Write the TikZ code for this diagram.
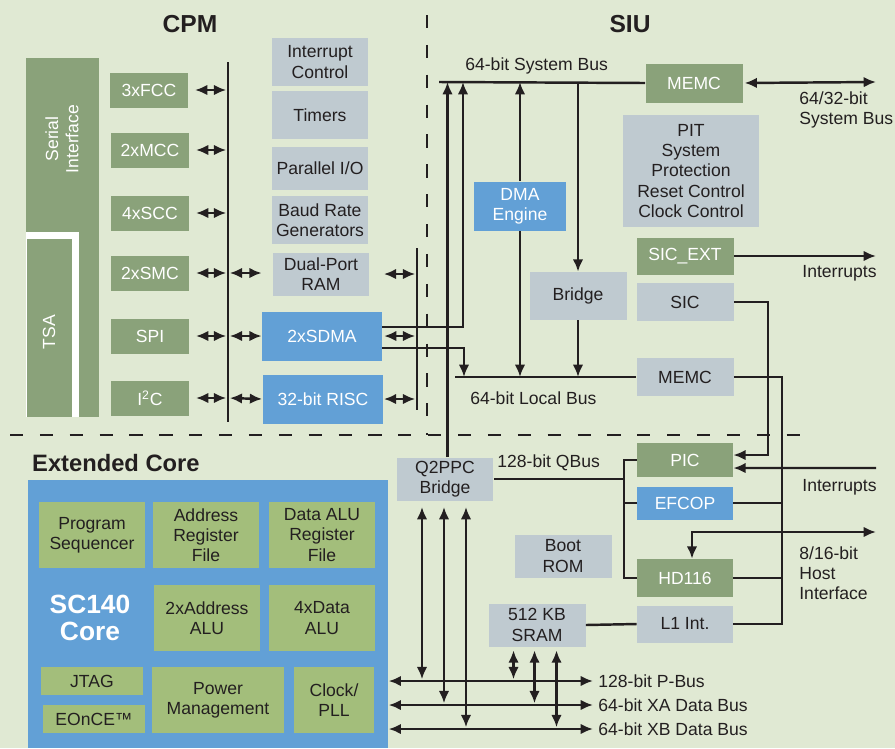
\documentclass[tikz,border=0pt]{standalone}
\usepackage{fontspec}
\setmainfont{Liberation Sans}
\usetikzlibrary{positioning}
\usetikzlibrary{arrows.meta}
\usetikzlibrary{calc}
\definecolor{bgc}{RGB}{224,233,211}
\definecolor{grn}{RGB}{138,162,122}
\definecolor{gry}{RGB}{191,202,208}
\definecolor{blu}{RGB}{98,160,214}
\definecolor{lgrn}{RGB}{163,190,123}
\definecolor{ink}{RGB}{35,31,32}

\begin{document}
\begin{tikzpicture}[
  x=0.02cm, y=-0.02cm,
  font=\fontsize{10}{11.5}\selectfont,
  box/.style={align=center, inner sep=0pt, text=ink},
  gbox/.style={box, fill=grn, text=white},
  sbox/.style={box, fill=gry},
  bbox/.style={box, fill=blu, text=white},
  cbox/.style={box, fill=lgrn, minimum width=2.12cm, minimum height=1.32cm},
  lbl/.style={inner sep=0pt, text=ink, align=left, anchor=west},
  bus/.style={draw=ink, line width=1.4pt},
  arrow/.style={bus, -{Latex[length=7pt,width=6pt]}},
  dbl/.style={bus, {Latex[length=7pt,width=6pt]}-{Latex[length=7pt,width=6pt]}},
  sep/.style={draw=ink, line width=1.5pt, dash pattern=on 7.5pt off 9.5pt},
  title/.style={font=\fontsize{14}{16}\selectfont\bfseries, text=ink}
]
\fill[bgc] (0,0) rectangle (895,748);
\useasboundingbox (0,0) rectangle (895,748);

% titles and region borders
\node[title] (cpm) at (190,24) {CPM};
\node[title] (siu) at (630,24) {SIU};
\node[title, anchor=west, font=\fontsize{13.5}{16}\selectfont\bfseries] (ext) at (26,463) {Extended Core};
\coordinate (dvT) at (427,15);
\coordinate (dvB) at (427,435);
\coordinate (dhL) at (10,435);
\coordinate (dhR) at (805,435);
\draw[sep] (dvT) -- (dvB);
\draw[sep] (dhL) -- (dhR);

% serial interface and TSA
\node[gbox, minimum width=1.46cm, minimum height=7.18cm] (serial) at (62.5,237.5) {};
\fill[white] (26,232) rectangle (79,417);
\node[gbox, minimum width=0.9cm, minimum height=3.56cm, anchor=north west] (tsa) at (27,239) {};
\node[rotate=90, text=white, align=center] at (62,139) {Serial\\Interface};
\node[rotate=90, text=white] at (49,332) {TSA};

% CPM controllers
\node[gbox, minimum width=1.58cm, minimum height=0.7cm] (fcc) at (149,90) {3xFCC};
\node[gbox, minimum width=1.58cm, minimum height=0.7cm] (mcc) at (150,150) {2xMCC};
\node[gbox, minimum width=1.58cm, minimum height=0.7cm] (scc) at (150,213) {4xSCC};
\node[gbox, minimum width=1.58cm, minimum height=0.7cm] (smc) at (150,273) {2xSMC};
\node[gbox, minimum width=1.58cm, minimum height=0.7cm] (spi) at (150,336) {SPI};
\node[gbox, minimum width=1.58cm, minimum height=0.7cm] (iic) at (150,398) {I\textsuperscript{2}C};

\node[sbox, minimum width=1.94cm, minimum height=0.96cm] (intc) at (320,62) {Interrupt\\Control};
\node[sbox, minimum width=1.94cm, minimum height=0.96cm] (timers) at (320,115) {Timers};
\node[sbox, minimum width=1.94cm, minimum height=0.86cm] (pio) at (320,168) {Parallel I/O};
\node[sbox, minimum width=1.94cm, minimum height=0.96cm] (brg) at (320,220) {Baud Rate\\Generators};
\node[sbox, minimum width=1.94cm, minimum height=0.86cm] (dpram) at (321,274) {Dual-Port\\RAM};
\node[bbox, minimum width=2.4cm, minimum height=0.98cm] (sdma) at (322,336) {2xSDMA};
\node[bbox, minimum width=2.42cm, minimum height=0.98cm] (risc) at (323,399) {32-bit RISC};

% CPM buses
\coordinate (cpmtop) at (228,62);
\coordinate (cpmbot) at (228,422);
\draw[bus] (cpmtop) -- (cpmbot);
\foreach \b in {fcc,mcc,scc,smc,spi,iic}
  \draw[dbl, shorten <=3.5pt, shorten >=1pt] (\b.east) -- (\b.east -| cpmtop);
\draw[dbl, shorten <=1pt] (smc.east -| cpmtop) -- (smc.east -| sdma.west);
\draw[dbl, shorten <=1pt] (spi.east -| cpmtop) -- (sdma.west);
\draw[dbl, shorten <=1pt] (iic.east -| cpmtop) -- (risc.west);

\coordinate (rbtop) at (417,248);
\coordinate (rbbot) at (417,410);
\draw[bus] (rbtop) -- (rbbot);
\draw[dbl, shorten >=1pt] (dpram.east -| risc.east) -- (dpram.east -| rbtop);
\draw[dbl, shorten >=1pt, shorten <=1pt] (sdma.east) -- (sdma.east -| rbtop);
\draw[dbl, shorten >=1pt] (risc.east) -- (risc.east -| rbtop);

% SIU
\coordinate (sysL) at (439,82);
\coordinate (sysR) at (876,82);
\node[gbox, minimum width=1.94cm, minimum height=0.78cm] (memc) at (694,83) {MEMC};
\draw[bus] (sysL) -- (memc.west);
\draw[dbl, shorten <=1pt] (memc.east) -- (sysR);
\node[lbl] (sysbus) at (465,66) {64-bit System Bus};
\node[lbl] (extbus) at (799,110) {64/32-bit\\System Bus};

\node[sbox, minimum width=2.72cm, minimum height=2.26cm] (pit) at (691,171) {PIT\\System\\Protection\\Reset Control\\Clock Control};
\node[bbox, minimum width=1.84cm, minimum height=0.98cm] (dma) at (520,206) {DMA\\Engine};
\node[sbox, minimum width=1.94cm, minimum height=0.96cm] (bridge) at (578,296) {Bridge};
\node[gbox, minimum width=1.94cm, minimum height=0.74cm] (sicext) at (685,256) {SIC\_EXT};
\node[sbox, minimum width=1.94cm, minimum height=0.76cm] (sic) at (685,302) {SIC};
\node[sbox, minimum width=1.94cm, minimum height=0.76cm] (lmemc) at (685,377) {MEMC};

\coordinate (locL) at (455,377);
\draw[bus] (locL) -- (lmemc.west);
\node[lbl] (locbus) at (470,398) {64-bit Local Bus};

\draw[arrow] (dma.north) -- (dma.north |- sysL);
\draw[arrow] (dma.south) -- (dma.south |- locL);
\draw[arrow] (bridge.north |- sysL) -- (bridge.north);
\draw[arrow] (bridge.south) -- (bridge.south |- locL);

\coordinate (sdup) at (463,82);
\coordinate (sddn) at (464,377);
\draw[arrow] ([yshift=0.18cm]sdma.east) -| (sdup);
\draw[arrow] ([yshift=-0.24cm]sdma.east) -| (sddn);

\coordinate (intoutR) at (876,256);
\draw[arrow] (sicext.east) -- (intoutR);
\node[lbl] (intout) at (802,273) {Interrupts};

% extended core side
\node[sbox, minimum width=1.94cm, minimum height=0.86cm] (q2ppc) at (445,479) {Q2PPC\\Bridge};
\draw[arrow] ([xshift=0.05cm]q2ppc.north) -- ([xshift=0.05cm]q2ppc.north |- sysL);

\node[gbox, minimum width=1.92cm, minimum height=0.68cm] (pic) at (685,460) {PIC};
\node[bbox, minimum width=1.92cm, minimum height=0.66cm] (efcop) at (685,503) {EFCOP};
\node[gbox, minimum width=1.92cm, minimum height=0.76cm] (hd) at (685,578) {HD116};
\node[sbox, minimum width=1.92cm, minimum height=0.74cm] (l1) at (685,624) {L1 Int.};
\node[sbox, minimum width=1.94cm, minimum height=0.86cm] (brom) at (563,556) {Boot\\ROM};
\node[sbox, minimum width=1.94cm, minimum height=0.86cm] (sram) at (537,625) {512 KB\\SRAM};

\coordinate (qtrunk) at (624,479);
\draw[bus] (q2ppc.east) -- (qtrunk);
\draw[bus] (pic.west) -- (pic.west -| qtrunk) -- (hd.west -| qtrunk) -- (hd.west);
\draw[bus] (efcop.west) -- (efcop.west -| qtrunk);
\node[lbl] (qbus) at (497,463) {128-bit QBus};

\draw[arrow] (sic.east) -- ++(34,0) |- ([yshift=0.1cm]pic.east);
\coordinate (intin) at (876,468);
\draw[arrow] (intin) -- ([yshift=-0.16cm]pic.east);
\node[lbl] (intinl) at (802,487) {Interrupts};

\coordinate (trunk) at (782,377);
\draw[bus] (lmemc.east) -- (trunk) |- (l1.east);
\draw[bus] (efcop.east) -- (efcop.east -| trunk);
\draw[bus] (hd.east) -- (hd.east -| trunk);

\coordinate (hostR) at (876,532);
\draw[dbl] (hostR) -| ([xshift=0.14cm]hd.north);
\node[lbl] (host) at (799,573) {8/16-bit\\Host\\Interface};

\draw[bus] (sram.east) -- (l1.west);

% SC140 core
\node[box, fill=blu, minimum width=7.2cm, minimum height=5.36cm, anchor=north west] (core) at (28,480) {};
\node[cbox] (pseq) at (92,535) {Program\\Sequencer};
\node[cbox] (areg) at (206,535) {Address\\Register\\File};
\node[cbox] (dreg) at (322,535) {Data ALU\\Register\\File};
\node[font=\fontsize{15}{15.5}\selectfont\bfseries, text=white, align=center] (sc) at (90,618) {SC140\\Core};
\node[cbox] (aalu) at (207,618) {2xAddress\\ALU};
\node[cbox] (dalu) at (322,618) {4xData\\ALU};
\node[cbox, minimum width=2.06cm, minimum height=0.56cm] (jtag) at (92,681) {JTAG};
\node[cbox, minimum width=2.06cm, minimum height=0.56cm] (eonce) at (94,719) {EOnCE™};
\node[cbox, minimum width=2.64cm] (pwr) at (218,700) {Power\\Management};
\node[cbox, minimum width=1.62cm] (clk) at (334,700) {Clock/\\PLL};

% data buses
\coordinate (pbR) at (593,681);
\coordinate (xaR) at (593,705);
\coordinate (xbR) at (593,729);
\draw[dbl] (pbR -| core.east) -- (pbR);
\draw[dbl] (xaR -| core.east) -- (xaR);
\draw[dbl] (xbR -| core.east) -- (xbR);
\node[lbl] (pbus) at (598,681) {128-bit P-Bus};
\node[lbl] (xabus) at (598,705) {64-bit XA Data Bus};
\node[lbl] (xbbus) at (598,729) {64-bit XB Data Bus};

\draw[dbl, shorten <=3.5pt, shorten >=1pt] ([xshift=-0.46cm]q2ppc.south) -- ([xshift=-0.46cm]q2ppc.south |- pbR);
\draw[dbl, shorten <=3.5pt, shorten >=1pt] ([xshift=-0.02cm]q2ppc.south) -- ([xshift=-0.02cm]q2ppc.south |- xaR);
\draw[dbl, shorten <=3.5pt, shorten >=1pt] ([xshift=0.42cm]q2ppc.south) -- ([xshift=0.42cm]q2ppc.south |- xbR);
\draw[dbl, shorten <=2pt, shorten >=1pt] ([xshift=-0.47cm]sram.south) -- ([xshift=-0.47cm]sram.south |- pbR);
\draw[dbl, shorten <=2pt, shorten >=1pt] ([xshift=-0.05cm]sram.south) -- ([xshift=-0.05cm]sram.south |- xaR);
\draw[dbl, shorten <=2pt, shorten >=1pt] ([xshift=0.39cm]sram.south) -- ([xshift=0.39cm]sram.south |- xbR);

\end{tikzpicture}
\end{document}
